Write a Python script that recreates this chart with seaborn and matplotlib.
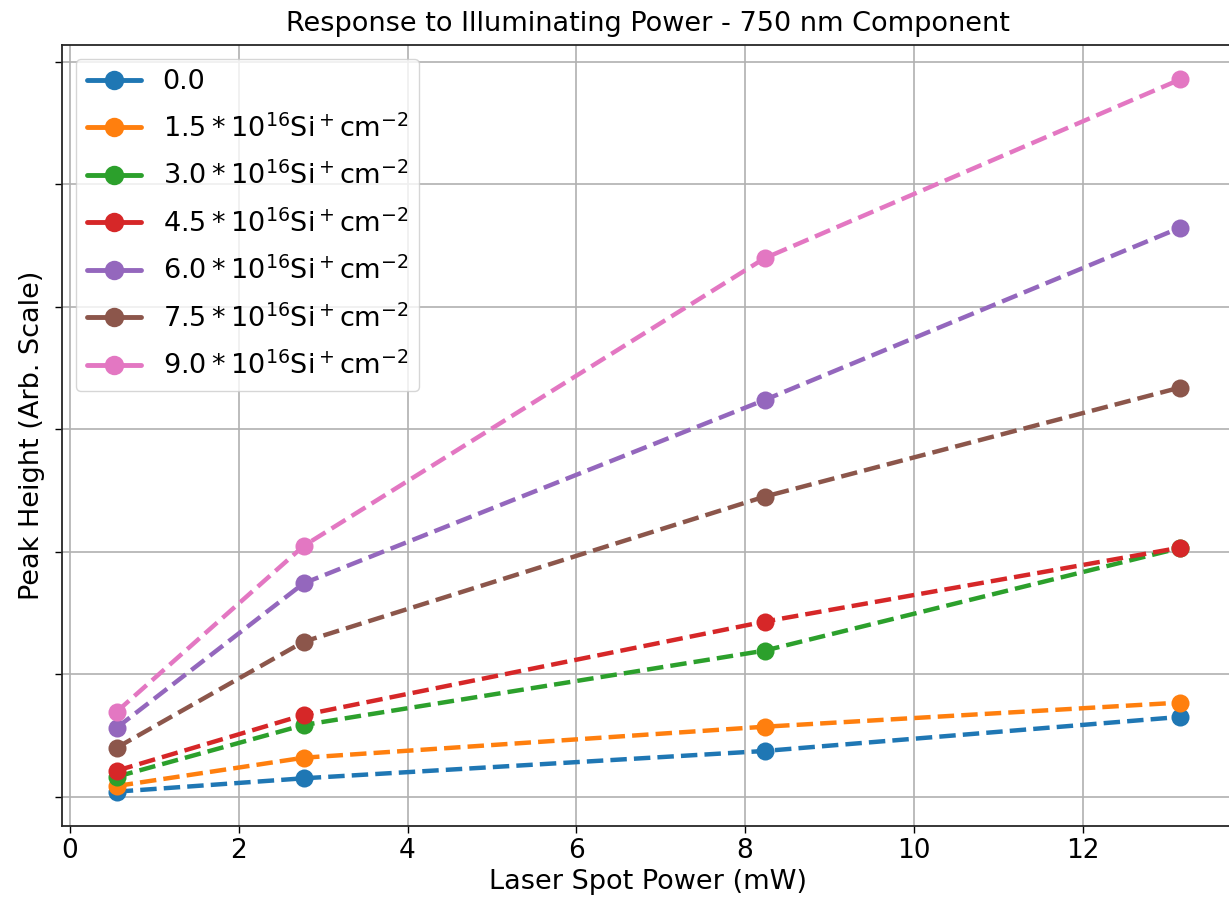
import numpy as np
import pandas as pd
import matplotlib
matplotlib.use("Agg")
import matplotlib.pyplot as plt
from matplotlib.lines import Line2D
import seaborn as sns

#-----------------
# Daten
#-----------------
power = [0.555, 2.77, 8.23, 13.155]

doses = ["0.0", "1.5", "3.0", "4.5", "6.0", "7.5", "9.0"]

peak_00 = [0.041, 0.150, 0.373, 0.651]
peak_15 = [0.087, 0.318, 0.571, 0.768]
peak_30 = [0.163, 0.585, 1.192, 2.030]
peak_45 = [0.212, 0.667, 1.429, 2.033]
peak_60 = [0.563, 1.742, 3.238, 4.645]
peak_75 = [0.400, 1.265, 2.449, 3.340]
peak_90 = [0.694, 2.047, 4.395, 5.855]

labels = ["0.0"] + [r"$%s*10^{16}\mathrm{Si}^+\mathrm{cm}^{-2}$" % d for d in doses[1:]]

series = [peak_00, peak_15, peak_30, peak_45, peak_60, peak_75, peak_90]
rows = []
for lab, vals in zip(labels, series):
    for p, v in zip(power, vals):
        rows.append({"power": p, "peak": v, "dose": lab})
df = pd.DataFrame(rows)

colors = sns.color_palette("tab10", 7)

#-----------------
# Plot
#-----------------
sns.set_style("ticks", {"text.color": "black", "axes.labelcolor": "black",
                        "xtick.color": "black", "ytick.color": "black",
                        "axes.edgecolor": "black"})
plt.rcParams["font.family"] = ["DejaVu Sans"]

fig = plt.figure(figsize=(12.29, 9), dpi=100)
ax = fig.add_axes([62.3 / 1229, 74.3 / 900, 1171.5 / 1229, 780.7 / 900])

sns.lineplot(data=df, x="power", y="peak", hue="dose", hue_order=labels,
             palette=colors, marker="o", markersize=13, markeredgewidth=0,
             linestyle="--", linewidth=3.2, legend=False, ax=ax)

ax.set_xlim(-0.09, 13.79)
ax.set_ylim(-0.237, 6.136)
ax.set_xticks(range(0, 13, 2))
ax.set_yticks(range(0, 7))
ax.set_yticklabels([])
ax.tick_params(axis="x", labelsize=19, direction="out", length=5, width=1)
ax.tick_params(axis="y", direction="out", length=5, width=1)
ax.grid(True, color="#b0b0b0", linewidth=1.2)
for s in ax.spines.values():
    s.set_color("#262626")
    s.set_linewidth(1.3)

ax.set_title("Response to Illuminating Power - 750 nm Component", fontsize=19.5, pad=10)
ax.set_xlabel("Laser Spot Power (mW)", fontsize=19.5)
ax.set_ylabel("Peak Height (Arb. Scale)", fontsize=19.5)

# Legende mit durchgezogenen Linien
handles = [Line2D([0], [0], color=c, linewidth=3.5, marker="o", markersize=14,
                  markeredgewidth=0) for c in colors]
ax.legend(handles, labels, loc="upper left", fontsize=19.5, frameon=True,
          framealpha=0.8, edgecolor="#cccccc", borderaxespad=0.5,
          labelspacing=0.7)

fig.savefig("out.png", dpi=100)
